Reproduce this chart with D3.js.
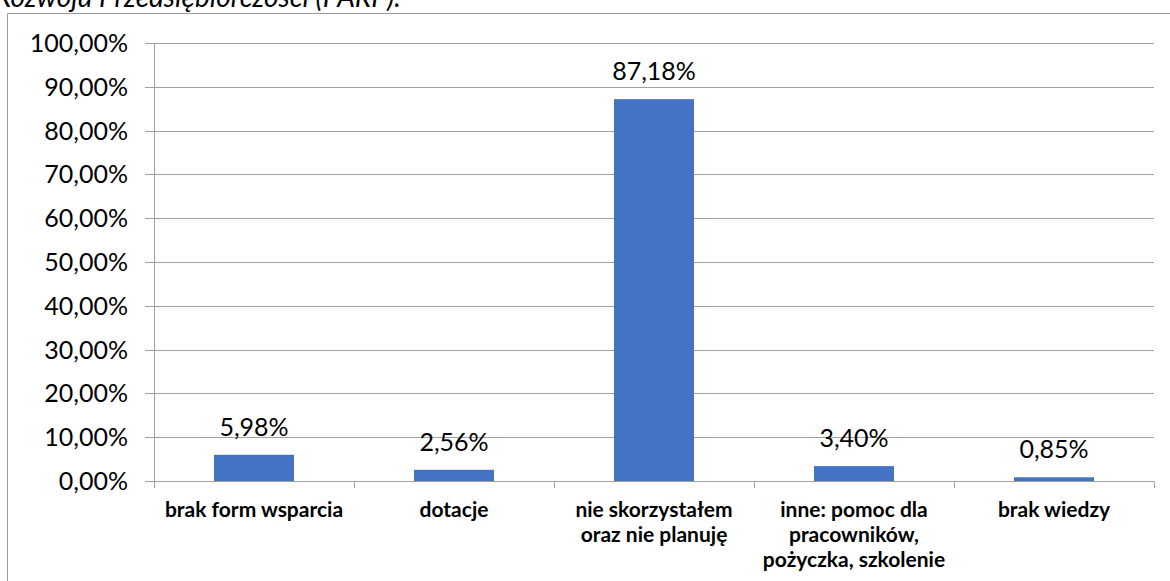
<!DOCTYPE html>
<html><head><meta charset="utf-8">
<script src="https://cdn.jsdelivr.net/npm/d3@7"></script>
<style>body{margin:0;background:#fff;overflow:hidden}svg{display:block}</style>
</head><body>
<script>
const categories = [["brak form wsparcia"],["dotacje"],["nie skorzystałem","oraz nie planuję"],["inne: pomoc dla","pracowników,","pożyczka, szkolenie"],["brak wiedzy"]];
const values = [5.98, 2.56, 87.18, 3.40, 0.85];
const yTicks = [0,10,20,30,40,50,60,70,80,90,100];
const titleText = "Rozwoju Przedsiębiorczości (PARP).";

const W = 1170, H = 581;
const svg = d3.select("body").append("svg").attr("width", W).attr("height", H);
const font = "Lato, 'Open Sans', sans-serif";
const fmt = v => v.toFixed(2).replace(".", ",") + "%";

svg.append("text").attr("x", -5).attr("y", 7).attr("font-family", font).attr("font-style","italic")
  .attr("font-size", 28).attr("fill", "#000").text(titleText);

// frame (top and left edges visible)
svg.append("line").attr("x1", 7.5).attr("x2", W).attr("y1", 13.5).attr("y2", 13.5).attr("stroke","#9a9a9a");
svg.append("line").attr("x1", 7.5).attr("x2", 7.5).attr("y1", 13.5).attr("y2", H).attr("stroke","#9a9a9a");

const x = d3.scaleBand().domain(d3.range(categories.length)).range([154, 1154]).paddingInner(0).paddingOuter(0);
const y = d3.scaleLinear().domain([0,100]).range([481, 43]);

const g = svg.append("g");
g.selectAll("line.grid").data(yTicks).join("line")
  .attr("x1", 145).attr("x2", 1154).attr("y1", d=>Math.round(y(d))+0.5).attr("y2", d=>Math.round(y(d))+0.5)
  .attr("stroke","#a0a0a0").attr("stroke-width",1);
g.append("line").attr("x1",154.5).attr("x2",154.5).attr("y1",Math.round(y(100))+0.5).attr("y2",Math.round(y(0))+0.5)
  .attr("stroke","#a0a0a0");
const bounds = d3.range(categories.length+1).map(i => 154 + i*x.bandwidth());
g.selectAll("line.ct").data(bounds).join("line")
  .attr("x1", d=>Math.round(d)+0.5).attr("x2", d=>Math.round(d)+0.5)
  .attr("y1", Math.round(y(0))+0.5).attr("y2", Math.round(y(0))+7)
  .attr("stroke","#a0a0a0");

g.selectAll("text.yl").data(yTicks).join("text")
  .attr("x", 128).attr("y", d=>y(d)+9).attr("text-anchor","end")
  .attr("font-family", font).attr("font-size", 25).attr("fill","#000").text(d=>fmt(d));

const bw = x.bandwidth()*0.4;
g.selectAll("rect.bar").data(values).join("rect")
  .attr("x", (d,i)=> x(i)+x.bandwidth()/2 - bw/2).attr("width", bw)
  .attr("y", d=>y(d)).attr("height", d=>y(0)-y(d)).attr("fill","#4472C4");

g.selectAll("text.vl").data(values).join("text")
  .attr("x", (d,i)=> x(i)+x.bandwidth()/2).attr("y", d=>y(d)-19).attr("text-anchor","middle")
  .attr("font-family", font).attr("font-size", 25).attr("fill","#000").text(d=>fmt(d));

categories.forEach((lines,i)=>{
  const t = g.append("text").attr("text-anchor","middle").attr("font-family",font)
    .attr("font-weight","bold").attr("font-size",21).attr("fill","#000");
  lines.forEach((l,j)=> t.append("tspan").attr("x", x(i)+x.bandwidth()/2).attr("y", 517 + j*25).text(l));
});
</script>
</body></html>
